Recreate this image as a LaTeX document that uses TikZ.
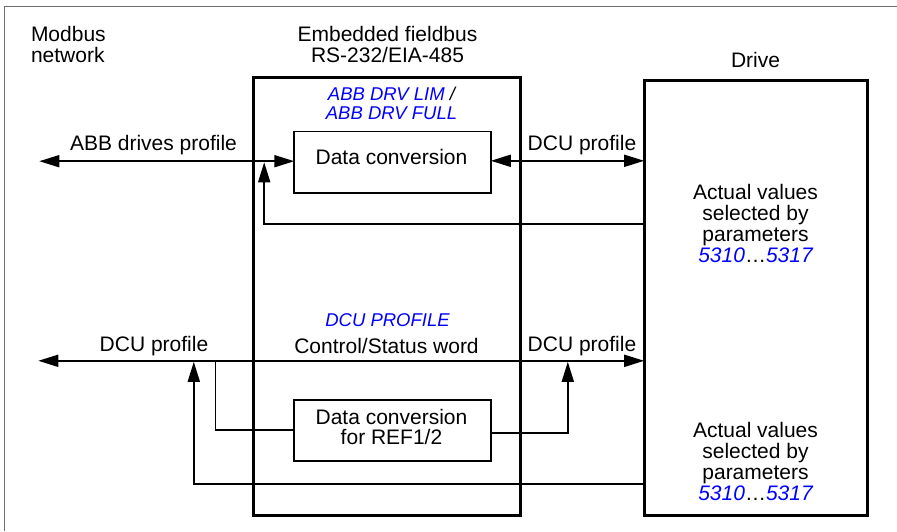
\documentclass[tikz,border=0pt]{standalone}
\usepackage{fontspec}
\setmainfont{Liberation Sans}
\usetikzlibrary{arrows.meta}
\definecolor{linkblue}{RGB}{0,0,255}
\definecolor{framegray}{RGB}{110,110,110}
\begin{document}
\begin{tikzpicture}[x=1pt,y=-1pt,
  every node/.style={inner sep=0pt, outer sep=0pt},
  txt/.style={font=\fontsize{21}{20.7}\selectfont, align=center},
  drivetxt/.style={font=\fontsize{21}{21}\selectfont, align=center},
  lbl/.style={font=\fontsize{21}{21}\selectfont, anchor=base},
  param/.style={font=\fontsize{18.5}{19}\selectfont\itshape, text=linkblue, align=center},
  bigbox/.style={draw, line width=3pt},
  smallbox/.style={draw, line width=1.8pt},
  conn/.style={line width=1.8pt},
  onehead/.style={-{Triangle[length=20pt,width=12pt]}},
  twohead/.style={{Triangle[length=20pt,width=12pt]}-{Triangle[length=20pt,width=12pt]}},
  frameline/.style={line width=1pt, draw=framegray}
]
\useasboundingbox (0,0) rectangle (897,531);
\draw[frameline] (4.5,531) -- (4.5,6.5) -- (897,6.5);

% boxes
\node[bigbox, minimum width=266.2pt, minimum height=438.2pt] (emb) at (386.9,296.4) {};
\node[bigbox, minimum width=223.1pt, minimum height=435.5pt] (drive) at (755.75,297.75) {};
\node[smallbox, minimum width=196.5pt, minimum height=61.8pt] (conv1) at (392.55,162.4) {};
\node[smallbox, minimum width=196.5pt, minimum height=60.6pt] (conv2) at (392.55,430.5) {};

% texts
\node[txt, anchor=base] (conv1text) at (391.5,164) {Data conversion};
\node[txt] (conv2text) at (391.5,427) {Data conversion\\for REF1/2};
\node[txt, align=left, anchor=west] (modbus) at (31,44.5) {Modbus\\network};
\node[txt] (embtitle) at (387.5,44.6) {Embedded fieldbus\\RS-232/EIA-485};
\node[lbl] (drivetitle) at (755.5,67) {Drive};
\node[param] (profiles) at (391.5,103) {ABB DRV LIM {\color{black}/}\\ABB DRV FULL};
\node[param, anchor=base] (dcuprof) at (387.5,326) {DCU PROFILE};
\node[drivetxt] (actual1) at (755.5,223) {Actual values\\selected by\\parameters\\{\color{linkblue}\itshape 5310}…{\color{linkblue}\itshape 5317}};
\node[drivetxt] (actual2) at (755.5,461.8) {Actual values\\selected by\\parameters\\{\color{linkblue}\itshape 5310}…{\color{linkblue}\itshape 5317}};

\node[lbl] (abbprof) at (153.5,150.7) {ABB drives profile};
\node[lbl] (dcu1) at (582,150.7) {DCU profile};
\node[lbl] (dcu2) at (154,351) {DCU profile};
\node[lbl] (dcu3) at (582,351) {DCU profile};
\node[lbl] (ctrl) at (386.5,353) {Control/Status word};

% connectors, upper part
\coordinate (netA) at (39.3,161.2);
\coordinate (fb1) at (264.2,223.8);
\coordinate (fb1tip) at (264.2,162.3);
\draw[conn, twohead] (netA) -- (netA -| conv1.west);
\draw[conn, twohead] (conv1.east |- 0,160.8) -- (drive.west |- 0,160.8);
\draw[conn, onehead] (drive.west |- fb1) -- (fb1) -- (fb1tip);

% connectors, lower part
\coordinate (netB) at (38.3,360.8);
\coordinate (j1) at (215.5,360.8);
\coordinate (j2) at (567.8,361.8);
\coordinate (fb2) at (193.8,484.2);
\coordinate (fb2tip) at (193.8,361.8);
\draw[conn, twohead] (netB) -- (netB -| drive.west);
\draw[conn] (conv2.west |- 0,430) -| (j1);
\draw[conn, onehead] (conv2.east |- 0,433.2) -| (j2);
\draw[conn, onehead] (drive.west |- fb2) -- (fb2) -- (fb2tip);
\end{tikzpicture}
\end{document}
